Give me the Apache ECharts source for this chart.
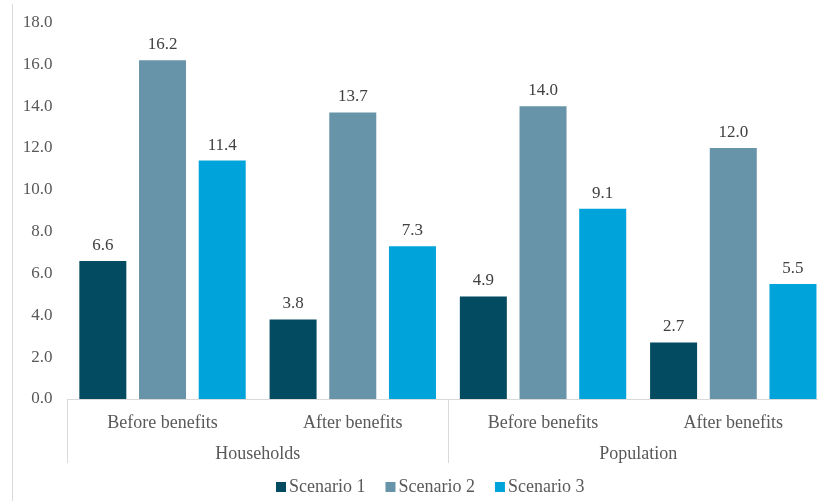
<!DOCTYPE html>
<html>
<head>
<meta charset="utf-8">
<script src="https://cdn.jsdelivr.net/npm/echarts@6/dist/echarts.min.js"></script>
<style>
  html, body { margin: 0; padding: 0; background: #ffffff; }
  #chart { width: 818px; height: 501px; }
</style>
</head>
<body>
<div id="chart"></div>
<script>
// Share of households / population under each scenario, before and after benefits
const categories = ['Before benefits', 'After benefits', 'Before benefits', 'After benefits'];
const groups = ['Households', 'Population'];
const seriesNames = ['Scenario 1', 'Scenario 2', 'Scenario 3'];
const scenario1 = [6.6, 3.8, 4.9, 2.7];
const scenario2 = [16.2, 13.7, 14.0, 12.0];
const scenario3 = [11.4, 7.3, 9.1, 5.5];
const yTicks = { min: 0, max: 18, interval: 2 };

const colors = ['#034b61', '#6794a8', '#00a3da'];
const FONT = '"Liberation Serif", "Times New Roman", serif';
const values = [scenario1, scenario2, scenario3];

const chart = echarts.init(document.getElementById('chart'), null, { renderer: 'canvas' });

chart.setOption({
  animation: false,
  backgroundColor: '#ffffff',
  textStyle: { fontFamily: FONT },
  // plot area runs slightly past the right edge of the canvas
  grid: {
    left: 67.4, right: -10.4, top: 22.5, bottom: 102,
    containLabel: false,
    outerBoundsMode: 'none'
  },
  legend: {
    data: seriesNames,
    left: 271,
    top: 473,
    icon: 'rect',
    itemWidth: 10,
    itemHeight: 10,
    itemGap: 20,
    textStyle: { fontFamily: FONT, fontSize: 18, color: '#595959', padding: [0, 0, 0, -2] }
  },
  xAxis: [
    {
      type: 'category',
      data: categories,
      position: 'bottom',
      axisLine: { show: true, lineStyle: { color: '#d9d9d9', width: 1 } },
      axisTick: { show: false },
      axisLabel: { margin: 15, fontFamily: FONT, fontSize: 18, color: '#595959', interval: 0 },
      splitLine: { show: false }
    },
    {
      type: 'category',
      data: groups,
      position: 'bottom',
      axisLine: { show: false },
      axisTick: { show: true, length: 64, lineStyle: { color: '#d9d9d9', width: 1 } },
      axisLabel: { margin: 46, fontFamily: FONT, fontSize: 18, color: '#595959', interval: 0 },
      splitLine: { show: false }
    }
  ],
  yAxis: {
    type: 'value',
    min: yTicks.min,
    max: yTicks.max,
    interval: yTicks.interval,
    axisLine: { show: false },
    axisTick: { show: false },
    splitLine: { show: false },
    axisLabel: {
      margin: 15,
      fontFamily: FONT,
      fontSize: 17,
      color: '#595959',
      formatter: v => v.toFixed(1)
    }
  },
  graphic: [
    {
      type: 'line',
      shape: { x1: 12.5, y1: 4, x2: 12.5, y2: 501 },
      style: { stroke: '#d9d9d9', lineWidth: 1 },
      silent: true
    }
  ],
  series: seriesNames.map((name, i) => ({
    name,
    type: 'bar',
    xAxisIndex: 0,
    data: values[i],
    barWidth: 47,
    barGap: '27%',
    itemStyle: { color: colors[i] },
    label: {
      show: true,
      position: 'top',
      distance: 7,
      fontFamily: FONT,
      fontSize: 17,
      color: '#404040',
      formatter: p => p.value.toFixed(1)
    }
  }))
});
</script>
</body>
</html>
